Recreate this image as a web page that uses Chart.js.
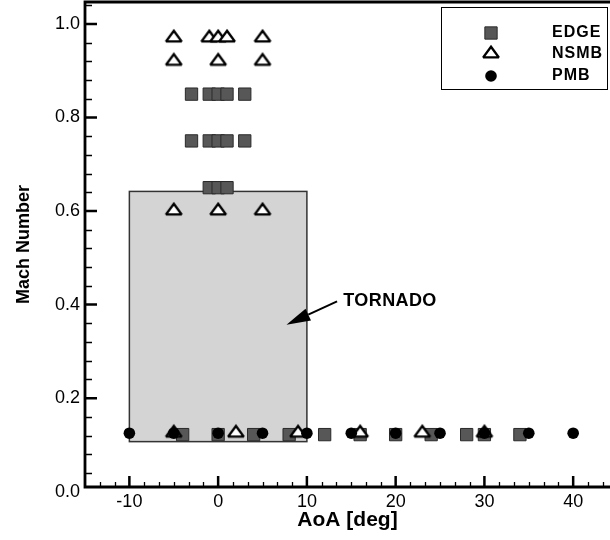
<!DOCTYPE html>
<html>
<head>
<meta charset="utf-8">
<script src="https://cdn.jsdelivr.net/npm/chart.js@4/dist/chart.umd.min.js"></script>
<style>
  html, body { margin: 0; padding: 0; background: #fff; overflow: hidden; }
  #wrap { width: 610px; height: 540px; }
</style>
</head>
<body>
<div id="wrap"><canvas id="c" width="610" height="540"></canvas></div>
<script>
// Test matrix: angle of attack [deg] against Mach number for each flow solver.
const edgeAoA  = [-3, -1, 0, 1, 3,   -3, -1, 0, 1, 3,   -1, 0, 1,
                  -4, 0, 4, 8, 12, 16, 20, 24, 28, 30, 34];
const edgeMach = [0.85, 0.85, 0.85, 0.85, 0.85,   0.75, 0.75, 0.75, 0.75, 0.75,   0.65, 0.65, 0.65,
                  0.122, 0.122, 0.122, 0.122, 0.122, 0.122, 0.122, 0.122, 0.122, 0.122, 0.122];

const nsmbAoA  = [-5, -1, 0, 1, 5,   -5, 0, 5,   -5, 0, 5,
                  -5, 2, 9, 16, 23, 30];
const nsmbMach = [0.97, 0.97, 0.97, 0.97, 0.97,   0.92, 0.92, 0.92,   0.60, 0.60, 0.60,
                  0.125, 0.125, 0.125, 0.125, 0.125, 0.125];

const pmbAoA   = [-10, -5, 0, 5, 10, 15, 20, 25, 30, 35, 40];
const pmbMach  = [0.125, 0.125, 0.125, 0.125, 0.125, 0.125, 0.125, 0.125, 0.125, 0.125, 0.125];

const seriesNames = ['EDGE', 'NSMB', 'PMB'];

// Axis tick labels
const xTickLabels = [-10, 0, 10, 20, 30, 40];
const yTickLabels = [0.0, 0.2, 0.4, 0.6, 0.8, 1.0];

// TORNADO envelope (AoA range and Mach range)
const tornadoAoA  = [-10, 10];
const tornadoMach = [0.107, 0.642];
const tornadoLabel = 'TORNADO';

const FONT = "'Liberation Sans', Arial, Helvetica, sans-serif";

// Annotation placement in data coordinates
const NOTE = { text: [14.1, 0.407], from: [13.4, 0.407], to: [7.7, 0.357] };

function pts(xs, ys) { return xs.map((x, i) => ({ x: x, y: ys[i] })); }

// Open delta symbol, a little flatter than the built-in triangle
function deltaSymbol() {
  const c = document.createElement('canvas');
  c.width = 20; c.height = 20;
  const g = c.getContext('2d');
  g.beginPath();
  g.moveTo(10, 2.7);
  g.lineTo(17.8, 13.4);
  g.lineTo(2.2, 13.4);
  g.closePath();
  g.fillStyle = '#fff';
  g.fill();
  g.lineWidth = 2.4;
  g.lineJoin = 'miter';
  g.miterLimit = 2;
  g.strokeStyle = '#000';
  g.stroke();
  return c;
}

// Envelope box, drawn under the markers
const envelopePlugin = {
  id: 'envelope',
  beforeDatasetsDraw(chart) {
    const { ctx, scales: { x, y } } = chart;
    const x0 = x.getPixelForValue(tornadoAoA[0]), x1 = x.getPixelForValue(tornadoAoA[1]);
    const y0 = y.getPixelForValue(tornadoMach[1]), y1 = y.getPixelForValue(tornadoMach[0]);
    ctx.save();
    ctx.fillStyle = '#d4d4d4';
    ctx.fillRect(x0, y0, x1 - x0, y1 - y0);
    ctx.strokeStyle = '#333';
    ctx.lineWidth = 1.5;
    ctx.strokeRect(x0, y0, x1 - x0, y1 - y0);
    ctx.restore();
  }
};

// Frame: left/bottom axes with inward ticks, plain top border
const framePlugin = {
  id: 'frame',
  afterDatasetsDraw(chart) {
    const { ctx, chartArea: a, scales: { x, y } } = chart;
    ctx.save();
    ctx.strokeStyle = '#000';
    ctx.lineCap = 'butt';
    // minor ticks
    ctx.lineWidth = 1.3;
    ctx.beginPath();
    for (let k = 1; k < 36; k++) {
      if (k % 6 === 3) continue;
      const v = x.min + k * 5 / 3;
      if (v >= x.max) break;
      const px = Math.round(x.getPixelForValue(v)) + 0.5;
      ctx.moveTo(px, a.bottom); ctx.lineTo(px, a.bottom - 5);
    }
    for (let k = 1; k <= 26; k++) {
      if (k % 5 === 0) continue;
      const v = k * 0.04;
      if (v <= y.min || v >= y.max) continue;
      const py = Math.round(y.getPixelForValue(v)) + 0.5;
      ctx.moveTo(a.left, py); ctx.lineTo(a.left + 7, py);
    }
    ctx.stroke();
    // major ticks
    ctx.lineWidth = 2.5;
    ctx.beginPath();
    xTickLabels.forEach(v => {
      const px = x.getPixelForValue(v);
      ctx.moveTo(px, a.bottom); ctx.lineTo(px, a.bottom - 11);
    });
    yTickLabels.forEach(v => {
      if (v < y.min || v > y.max) return;
      const py = y.getPixelForValue(v);
      ctx.moveTo(a.left, py); ctx.lineTo(a.left + 12, py);
    });
    ctx.stroke();
    // axis lines
    ctx.lineWidth = 2.8;
    ctx.beginPath();
    ctx.moveTo(a.right + 2, a.top); ctx.lineTo(a.left, a.top);
    ctx.lineTo(a.left, a.bottom); ctx.lineTo(a.right + 2, a.bottom);
    ctx.stroke();
    ctx.restore();
  }
};

// Arrow note and boxed legend
const notePlugin = {
  id: 'note',
  afterDraw(chart) {
    const { ctx, scales: { x, y } } = chart;
    ctx.save();
    const fx = x.getPixelForValue(NOTE.from[0]), fy = y.getPixelForValue(NOTE.from[1]);
    const tx = x.getPixelForValue(NOTE.to[0]),   ty = y.getPixelForValue(NOTE.to[1]);
    const ang = Math.atan2(ty - fy, tx - fx);
    const headLen = 24, headHalf = 6.5;
    const bx = tx - headLen * Math.cos(ang), by = ty - headLen * Math.sin(ang);
    ctx.strokeStyle = '#000'; ctx.fillStyle = '#000'; ctx.lineWidth = 2;
    ctx.beginPath(); ctx.moveTo(fx, fy); ctx.lineTo(bx, by); ctx.stroke();
    ctx.beginPath();
    ctx.moveTo(tx, ty);
    ctx.lineTo(bx + headHalf * Math.sin(ang), by - headHalf * Math.cos(ang));
    ctx.lineTo(bx - headHalf * Math.sin(ang), by + headHalf * Math.cos(ang));
    ctx.closePath(); ctx.fill();
    ctx.letterSpacing = '0.4px';
    ctx.font = 'bold 18px ' + FONT;
    ctx.textBaseline = 'middle'; ctx.textAlign = 'left';
    ctx.fillText(tornadoLabel, x.getPixelForValue(NOTE.text[0]), y.getPixelForValue(NOTE.text[1]));

    // legend box
    const L = { left: 441.5, top: 7.5, width: 166, height: 82, symX: 491, textX: 552, rows: [33, 54, 76] };
    ctx.fillStyle = '#fff';
    ctx.fillRect(L.left, L.top, L.width, L.height);
    ctx.strokeStyle = '#000'; ctx.lineWidth = 1;
    ctx.strokeRect(L.left, L.top, L.width, L.height);
    ctx.letterSpacing = '1px';
    chart.data.datasets.forEach((ds, i) => {
      ctx.fillStyle = ds.backgroundColor;
      ctx.strokeStyle = ds.borderColor;
      ctx.lineWidth = ds.borderWidth;
      Chart.helpers.drawPoint(ctx, { pointStyle: ds.pointStyle, radius: ds.pointRadius, rotation: 0, borderWidth: ds.borderWidth }, L.symX, L.rows[i]);
      ctx.fillStyle = '#000';
      ctx.font = 'bold 16px ' + FONT;
      ctx.textBaseline = 'middle'; ctx.textAlign = 'left';
      ctx.fillText(ds.label, L.textX, L.rows[i]);
    });
    ctx.restore();
    ctx.letterSpacing = '0px';
  }
};

new Chart(document.getElementById('c'), {
  type: 'scatter',
  data: {
    datasets: [
      { label: seriesNames[0], data: pts(edgeAoA, edgeMach), order: 3,
        pointStyle: 'rect', pointRadius: 8.7, backgroundColor: '#575757', borderColor: '#2a2a2a', borderWidth: 1 },
      { label: seriesNames[1], data: pts(nsmbAoA, nsmbMach), order: 2,
        pointStyle: deltaSymbol(), pointRadius: 8, backgroundColor: '#ffffff', borderColor: '#000000', borderWidth: 2.4 },
      { label: seriesNames[2], data: pts(pmbAoA, pmbMach), order: 1,
        pointStyle: 'circle', pointRadius: 5.8, backgroundColor: '#000000', borderColor: '#000000', borderWidth: 0 }
    ]
  },
  options: {
    responsive: false,
    animation: false,
    events: [],
    layout: { autoPadding: false, padding: { top: 2, left: 0, right: 0, bottom: 0 } },
    plugins: { legend: { display: false }, tooltip: { enabled: false } },
    scales: {
      x: {
        type: 'linear', min: -15, max: 44.15,
        afterBuildTicks: s => { s.ticks = xTickLabels.map(v => ({ value: v })); },
        afterFit: s => { s.height = 53; s.paddingLeft = 0; s.paddingRight = 0; },
        grid: { display: false, drawTicks: false }, border: { display: false },
        ticks: { color: '#000', font: { family: FONT, size: 18 }, padding: 4, maxRotation: 0, autoSkip: false,
                 callback: v => String(v) },
        title: { display: true, text: 'AoA [deg]', color: '#000',
                 font: { family: FONT, size: 21, weight: 'bold' }, padding: { top: 7, bottom: 7 } }
      },
      y: {
        type: 'linear', min: 0.01, max: 1.047,
        afterBuildTicks: s => { s.ticks = yTickLabels.map(v => ({ value: v })); },
        afterFit: s => { s.width = 85; s.paddingTop = 0; s.paddingBottom = 0; },
        grid: { display: false, drawTicks: false }, border: { display: false },
        ticks: { color: '#000', font: { family: FONT, size: 18 }, padding: 5, autoSkip: false,
                 callback: v => v.toFixed(1) },
        title: { display: true, text: 'Mach Number', color: '#000',
                 font: { family: FONT, size: 18, weight: 'bold' }, padding: { top: 13, bottom: 13 } }
      }
    }
  },
  plugins: [envelopePlugin, framePlugin, notePlugin]
});
</script>
</body>
</html>
